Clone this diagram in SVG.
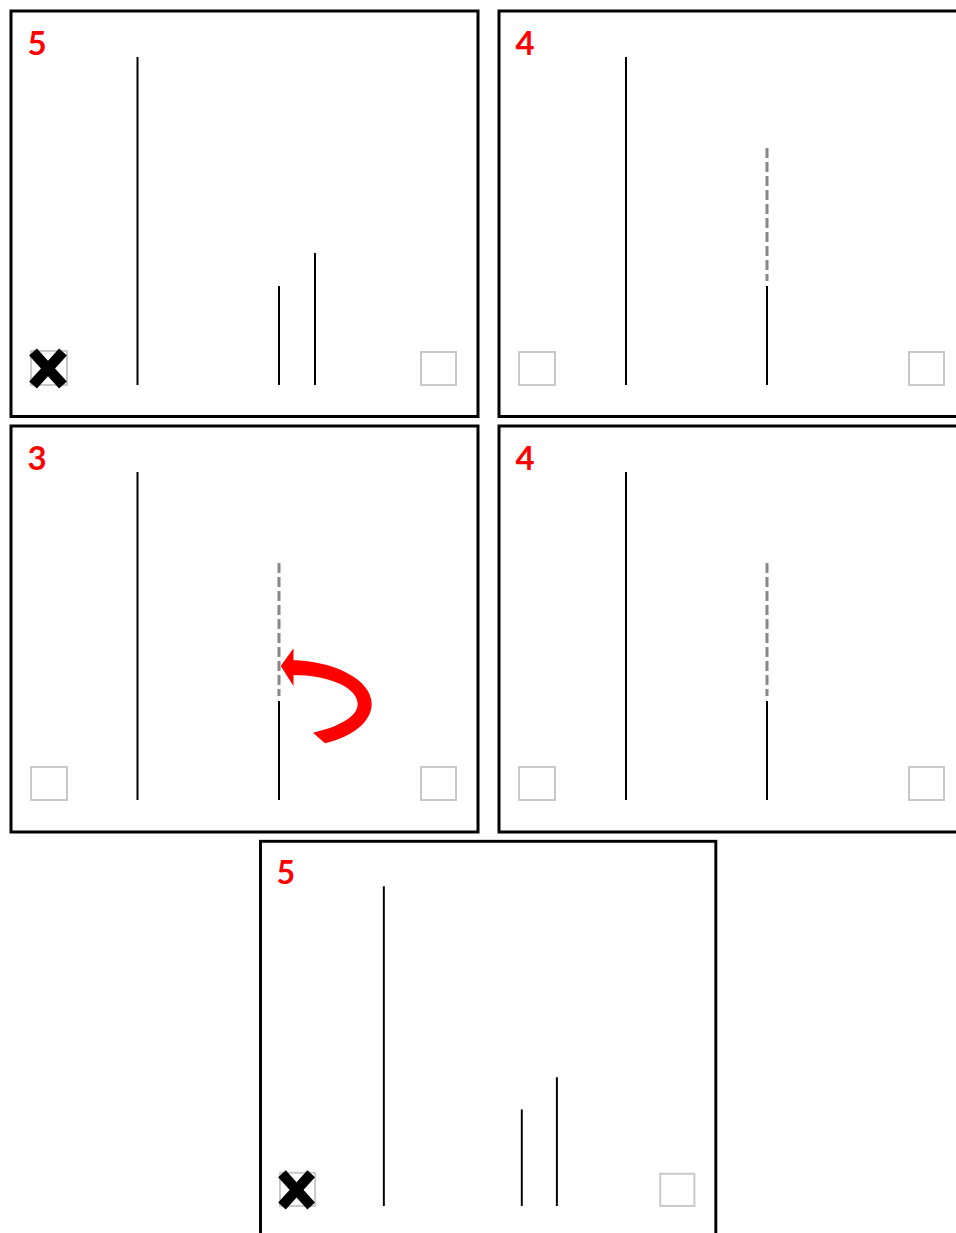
<svg xmlns="http://www.w3.org/2000/svg" width="956" height="1233" viewBox="0 0 956 1233">
<style>
.frame{fill:#fff;stroke:#000;stroke-width:3}
.num{font-family:Lato,"Liberation Sans",sans-serif;font-weight:bold;font-size:33px;fill:#ff0000}
.line{stroke:#000;stroke-width:2}
.dash{stroke:#888;stroke-width:3;stroke-dasharray:10 4}
.box{fill:none;stroke:#c8c8c8;stroke-width:2}
.xm{stroke:#000;stroke-width:10.5}
</style>
<rect width="956" height="1233" fill="#fff"/>
<g id="panel1" transform="translate(11,11)">
<rect class="frame" x="0" y="0" width="467" height="405.5"/>
<text class="num" x="16.5" y="43.5">5</text>
<line class="line" x1="126.5" y1="46" x2="126.5" y2="374"/>
<line class="line" x1="268" y1="275" x2="268" y2="374"/>
<line class="line" x1="304" y1="242" x2="304" y2="374"/>
<rect class="box" x="20" y="340" width="36" height="34"/>
<line class="xm" x1="22" y1="341" x2="52" y2="374"/>
<line class="xm" x1="52" y1="341" x2="22" y2="374"/>
<rect class="box" x="410" y="341" width="35" height="33"/>
</g>
<g id="panel2" transform="translate(499,11)">
<rect class="frame" x="0" y="0" width="467" height="405.5"/>
<text class="num" x="16.5" y="43.5">4</text>
<line class="line" x1="127" y1="46" x2="127" y2="374"/>
<line class="dash" x1="268" y1="137" x2="268" y2="270"/>
<line class="line" x1="268" y1="275" x2="268" y2="374"/>
<rect class="box" x="20" y="341" width="36" height="33"/>
<rect class="box" x="410" y="341" width="35" height="33"/>
</g>
<g id="panel3" transform="translate(11,426)">
<rect class="frame" x="0" y="0" width="467" height="406"/>
<text class="num" x="16.5" y="43.5">3</text>
<line class="line" x1="126.5" y1="46" x2="126.5" y2="374"/>
<line class="dash" x1="268" y1="137" x2="268" y2="270"/>
<line class="line" x1="268" y1="275" x2="268" y2="374"/>
<rect class="box" x="20" y="341" width="36" height="33"/>
<rect class="box" x="410" y="341" width="35" height="33"/>
</g>
<g id="panel4" transform="translate(499,426)">
<rect class="frame" x="0" y="0" width="467" height="406"/>
<text class="num" x="16.5" y="43.5">4</text>
<line class="line" x1="127" y1="46" x2="127" y2="374"/>
<line class="dash" x1="268" y1="137" x2="268" y2="270"/>
<line class="line" x1="268" y1="275" x2="268" y2="374"/>
<rect class="box" x="20" y="341" width="36" height="33"/>
<rect class="box" x="410" y="341" width="35" height="33"/>
</g>
<g id="panel5" transform="translate(260.5,841.3) scale(0.975)">
<rect class="frame" x="0" y="0" width="467" height="405.5"/>
<text class="num" x="16.5" y="43.5">5</text>
<line class="line" x1="126.5" y1="46" x2="126.5" y2="374"/>
<line class="line" x1="268" y1="275" x2="268" y2="374"/>
<line class="line" x1="304" y1="242" x2="304" y2="374"/>
<rect class="box" x="20" y="340" width="36" height="34"/>
<line class="xm" x1="22" y1="341" x2="52" y2="374"/>
<line class="xm" x1="52" y1="341" x2="22" y2="374"/>
<rect class="box" x="410" y="341" width="35" height="33"/>
</g>
<g id="connectors" transform="translate(11,426)" fill="#ff0000">
<path d="M281,234 C 324,235 360.7,254 360.7,278 C 360.7,296 341,311 314,317.3 L 302,306.7 C 327,301 346.7,291 346.7,278 C 346.7,262 319,249 281,249 Z"/>
<polygon points="269.7,240 282.5,222.3 282.5,260"/>
</g>
</svg>
